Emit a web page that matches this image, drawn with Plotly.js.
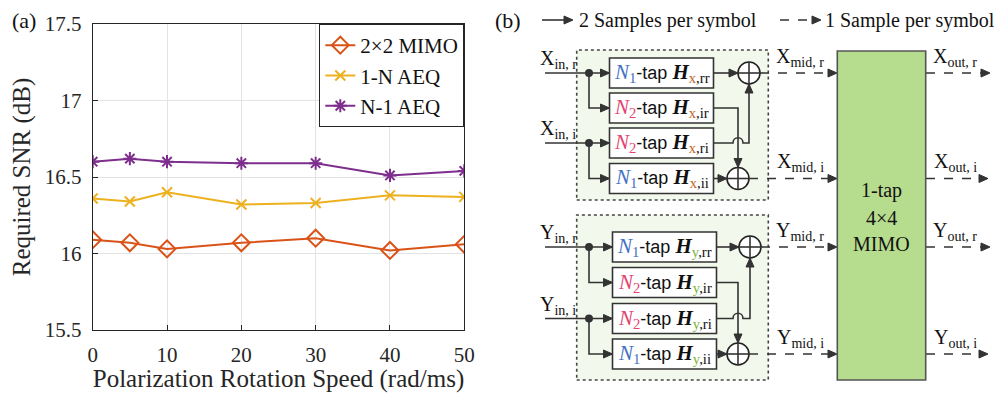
<!DOCTYPE html>
<html><head><meta charset="utf-8">
<script src="https://cdn.plot.ly/plotly-3.0.1.min.js"></script>
<style>html,body{margin:0;padding:0;background:#fff}</style>
</head><body><div id="chart" style="width:999px;height:393px"></div>
<script>
// ---------- data (panel a) ----------
const speed = [0, 5, 10, 20, 30, 40, 50];
const mimo2x2 = [16.09, 16.07, 16.03, 16.07, 16.10, 16.02, 16.06];
const aeq1N   = [16.36, 16.34, 16.40, 16.32, 16.33, 16.38, 16.37];
const aeqN1   = [16.60, 16.62, 16.60, 16.59, 16.59, 16.51, 16.54];
const seriesNames = ['2×2 MIMO', '1-N AEQ', 'N-1 AEQ'];
const xTicks = [0, 10, 20, 30, 40, 50];
const yTicks = [15.5, 16, 16.5, 17, 17.5];

const W = 999, H = 393;
const px = x => x / W, py = y => 1 - y / H;
const SERIF = 'Liberation Serif, Times New Roman, serif';
const INK = '#333333';

const traces = [
  {x: speed, y: mimo2x2, name: seriesNames[0], mode: 'lines+markers',
   line: {color: '#D95319', width: 2},
   marker: {symbol: 'diamond-open', size: 13, color: '#D95319', line: {width: 2}}},
  {x: speed, y: aeq1N, name: seriesNames[1], mode: 'lines+markers',
   line: {color: '#EDB120', width: 2},
   marker: {symbol: 'x-thin-open', size: 10, color: '#EDB120', line: {width: 2, color: '#EDB120'}}},
  {x: speed, y: aeqN1, name: seriesNames[2], mode: 'lines+markers',
   line: {color: '#7E2F8E', width: 2},
   marker: {symbol: 'asterisk-open', size: 11, color: '#7E2F8E', line: {width: 2, color: '#7E2F8E'}}}
];

// ---------- diagram (panel b) helpers ----------
const shapes = [], annotations = [];
function pathStr(pts) {
  return pts.map((p, i) => (i ? 'L' : 'M') + px(p[0]) + ',' + py(p[1])).join(' ');
}
function poly(pts, dash) {
  shapes.push({type: 'path', xref: 'paper', yref: 'paper', path: pathStr(pts),
    line: {color: INK, width: 1.6, dash: dash || 'solid'}});
}
function head(x, y, dir) {
  const L = 9, w = 4;
  let pts;
  if (dir === 'r') pts = [[x, y], [x - L, y - w], [x - L, y + w]];
  if (dir === 'd') pts = [[x, y], [x - w, y - L], [x + w, y - L]];
  if (dir === 'u') pts = [[x, y], [x - w, y + L], [x + w, y + L]];
  shapes.push({type: 'path', xref: 'paper', yref: 'paper', path: pathStr(pts) + ' Z',
    fillcolor: INK, line: {color: INK, width: 1}});
}
function rect(x0, y0, x1, y1, fill, dash, lc) {
  shapes.push({type: 'rect', xref: 'paper', yref: 'paper', x0: px(x0), x1: px(x1), y0: py(y1), y1: py(y0),
    fillcolor: fill, line: {color: lc || INK, width: 1.6, dash: dash || 'solid'}, layer: 'above'});
}
function circ(cx, cy, r, fill) {
  shapes.push({type: 'circle', xref: 'paper', yref: 'paper', x0: px(cx - r), x1: px(cx + r), y0: py(cy + r), y1: py(cy - r),
    fillcolor: fill, line: {color: fill === INK ? INK : '#222', width: 1.6}});
}
function txt(x, y, t, opts) {
  annotations.push(Object.assign({xref: 'paper', yref: 'paper', x: px(x), y: py(y), text: t, showarrow: false,
    font: {family: SERIF, size: 20, color: '#111'}, xanchor: 'center', yanchor: 'middle'}, opts || {}));
}
const BLUE = '#4472C4', PINK = '#E5436F', BROWN = '#C0652A', GREEN = '#7DB43C';
function boxLabel(n, pol, pc, sub) {
  const nc = n === 1 ? BLUE : PINK;
  return `<i><span style="color:${nc}">N</span></i><sub><span style="color:${nc}">${n}</span></sub>` +
    `<span style="font-family:Liberation Sans, Arial, sans-serif;font-size:18px">-tap </span>` +
    `<b><i>H</i></b><sub><span style="color:${pc}">${pol}</span>,${sub}</sub>`;
}

function block(c) {
  const [r1, r2, r3, r4] = c.rows, R = 11;
  rect(576.7, c.top, 768.3, c.bot, '#f2f9ec', 'dot', '#444');
  // inputs and splits
  [[r1, r2], [r3, r4]].forEach(([a, b]) => {
    poly([[545, a], [c.bx0 - 1, a]]); head(c.bx0, a, 'r');
    poly([[589, a], [589, b], [c.bx0 - 1, b]]); head(c.bx0, b, 'r');
    circ(589, a, 3.2, INK);
  });
  // boxes
  const labels = [[1, 'rr'], [2, 'ir'], [2, 'ri'], [1, 'ii']];
  c.rows.forEach((r, i) => {
    rect(c.bx0, r - 15, c.bx1, r + 15, '#ffffff');
    txt((c.bx0 + c.bx1) / 2, r, boxLabel(labels[i][0], c.pol, c.pc, labels[i][1]), {font: {family: SERIF, size: 21, color: '#111'}});
  });
  const [c1x, c1y] = c.c1, [c2x, c2y] = c.c2;
  // box outputs
  poly([[c.bx1, r1], [c1x - R - 1, r1]]); head(c1x - R, r1, 'r');
  poly([[c.bx1, r4], [c2x - R - 1, r4]]); head(c2x - R, r4, 'r');
  poly([[c.bx1, r2], [c2x, r2], [c2x, c2y - R - 1]]); head(c2x, c2y - R, 'd');
  shapes.push({type: 'path', xref: 'paper', yref: 'paper',
    path: `M${px(c.bx1)},${py(r3)} L${px(c2x - 5)},${py(r3)} C${px(c2x - 5)},${py(r3 - 7)} ${px(c2x + 5)},${py(r3 - 7)} ${px(c2x + 5)},${py(r3)} L${px(c1x)},${py(r3)} L${px(c1x)},${py(c1y + R + 1)}`,
    line: {color: INK, width: 1.6}});
  head(c1x, c1y + R, 'u');
  // summers
  [[c1x, c1y], [c2x, c2y]].forEach(([x, y]) => {
    circ(x, y, R, '#ffffff');
    poly([[x - R, y], [x + R, y]]); poly([[x, y - R], [x, y + R]]);
  });
  // dashed to MIMO
  poly([[c1x + R, r1], [828, r1]], 'dash'); head(837, r1, 'r');
  poly([[c2x + R, r4], [828, r4]], 'dash'); head(837, r4, 'r');
  // outputs from MIMO
  poly([[926, r1], [981, r1]], 'dash'); head(990, r1, 'r');
  poly([[926, r4], [979, r4]], 'dash'); head(988, r4, 'r');
  // labels
  const V = c.pol.toUpperCase();
  txt(558, r1 + 1, `${V}<sub>in, r</sub>`, {yanchor: 'bottom'});
  txt(558, r3 + 1, `${V}<sub>in, i</sub>`, {yanchor: 'bottom'});
  txt(800, r1 - 1, `${V}<sub>mid, r</sub>`, {yanchor: 'bottom'});
  txt(800, r4 - 1, `${V}<sub>mid, i</sub>`, {yanchor: 'bottom'});
  txt(955, r1 - 1, `${V}<sub>out, r</sub>`, {yanchor: 'bottom'});
  txt(955, r4 - 1, `${V}<sub>out, i</sub>`, {yanchor: 'bottom'});
}

block({pol: 'x', pc: BROWN, top: 50, bot: 200, rows: [73, 108, 143, 178.5], bx0: 609.5, bx1: 713.5, c1: [749, 73], c2: [738, 178.5]});
block({pol: 'y', pc: GREEN, top: 215, bot: 380, rows: [247, 282.5, 318.5, 354], bx0: 612.5, bx1: 716.5, c1: [750, 247], c2: [738, 354]});

// MIMO block
rect(837.3, 51, 925.7, 380, '#b6dc8e', 'solid', '#555');
txt(881, 191, '1-tap');
txt(881, 218, '4×4');
txt(881, 244, 'MIMO');

// top legend of diagram
poly([[542, 20], [564, 20]]); head(573, 20, 'r');
txt(577, 20, '2 Samples per symbol', {xanchor: 'left'});
poly([[780, 20], [812, 20]], 'dash'); head(821, 20, 'r');
txt(823, 20, '1 Sample per symbol', {xanchor: 'left'});

// panel labels
txt(24, 20, '(a)', {font: {family: SERIF, size: 22, color: '#111'}});
txt(508, 20, '(b)', {font: {family: SERIF, size: 22, color: '#111'}});

const axisCommon = {
  showline: true, mirror: true, linecolor: '#262626', linewidth: 1,
  ticks: 'inside', ticklen: 5, tickcolor: '#262626',
  showgrid: true, gridcolor: '#e3e3e3', gridwidth: 1, zeroline: false,
  tickfont: {family: SERIF, size: 21, color: '#262626'}, automargin: false
};

const layout = {
  width: W, height: H, margin: {l: 0, r: 0, t: 0, b: 0},
  paper_bgcolor: '#ffffff', plot_bgcolor: '#ffffff',
  font: {family: SERIF, color: '#262626'},
  xaxis: Object.assign({}, axisCommon, {domain: [px(92.7), px(464.3)], range: [0, 50],
    tickvals: xTicks, ticktext: xTicks.map(String), ticklabelstandoff: 6,
    title: {text: 'Polarization Rotation Speed (rad/ms)', font: {family: SERIF, size: 25, color: '#262626'}, standoff: 2}}),
  yaxis: Object.assign({}, axisCommon, {domain: [py(330), py(24)], range: [15.5, 17.5],
    tickvals: yTicks, ticktext: yTicks.map(String), ticklabelstandoff: 6,
    title: {text: 'Required SNR (dB)', font: {family: SERIF, size: 25, color: '#262626'}, standoff: 7}}),
  legend: {x: px(464.3), xanchor: 'right', y: py(24), yanchor: 'top', bgcolor: '#ffffff',
    bordercolor: '#262626', borderwidth: 1, font: {family: SERIF, size: 21, color: '#111'},
    itemwidth: 30, tracegroupgap: 0},
  showlegend: true,
  shapes: shapes, annotations: annotations
};

Plotly.newPlot('chart', traces, layout, {staticPlot: true, displayModeBar: false});
</script></body></html>
